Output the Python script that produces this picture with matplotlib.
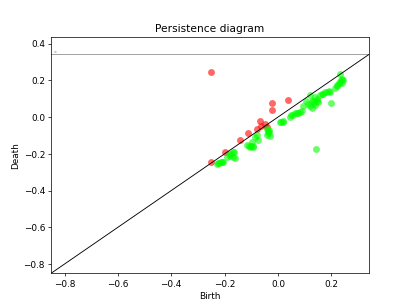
import matplotlib
matplotlib.use("Agg")
import matplotlib.pyplot as plt
import numpy as np

# Dimension 0 (red) points
red_birth = [-0.25, -0.024, -0.024, 0.039, -0.068, -0.049, -0.078, -0.112, -0.143, -0.200, -0.250, -0.042, -0.062]
red_death = [0.245, 0.078, 0.036, 0.092, -0.022, -0.040, -0.067, -0.089, -0.126, -0.189, -0.243, -0.055, -0.050]

# Dimension 1 (green) points
green_birth = [0.143, 0.199, 0.231, 0.223, 0.234, 0.245, 0.215, 0.121, 0.158, 0.177, 0.196, 0.140,
               0.094, 0.113, 0.128, 0.140, 0.147, 0.128, 0.045, 0.064, 0.083, 0.057, 0.008, 0.019,
               -0.042, -0.038, -0.030, -0.087, -0.075, -0.117, -0.106, -0.094, -0.181, -0.170,
               -0.162, -0.211, -0.225, -0.190, -0.098, -0.080, 0.240, 0.168, 0.105, -0.036, -0.215,
               0.228, 0.238, 0.220, 0.242, 0.120, 0.135, 0.145, 0.130, 0.150,
               0.050, 0.070, 0.075, 0.090, -0.035, -0.040, -0.032, -0.110, -0.100, -0.095,
               -0.180, -0.175, -0.165, -0.170, -0.220, -0.205, -0.230, 0.165, 0.185, 0.190,
               0.012, 0.020]
green_death = [-0.172, 0.078, 0.232, 0.177, 0.193, 0.204, 0.161, 0.123, 0.123, 0.134, 0.139, 0.107,
               0.058, 0.074, 0.085, 0.068, 0.096, 0.052, 0.003, 0.020, 0.030, 0.009, -0.029, -0.024,
               -0.067, -0.089, -0.105, -0.111, -0.122, -0.154, -0.165, -0.160, -0.203, -0.192,
               -0.220, -0.247, -0.250, -0.215, -0.135, -0.100, 0.185, 0.128, 0.090, -0.075, -0.245,
               0.185, 0.200, 0.170, 0.210, 0.060, 0.075, 0.085, 0.090, 0.080,
               0.010, 0.020, 0.025, 0.035, -0.080, -0.095, -0.070, -0.160, -0.155, -0.165,
               -0.210, -0.200, -0.190, -0.215, -0.250, -0.245, -0.255, 0.125, 0.135, 0.140,
               -0.027, -0.020]

axis_start = -0.85
axis_end = 0.34
infinity = 0.346
y_top = 0.438

fig, ax = plt.subplots(figsize=(6.4, 4.8), dpi=64)

x = np.linspace(axis_start, axis_end, 100)
ax.plot(x, x, color="k", linewidth=1.0)
ax.plot([axis_start, axis_end], [infinity, infinity], color="k", linewidth=1.0, alpha=0.4)
ax.text(axis_start + 0.005, infinity + 0.003, r"$\infty$", fontsize=4, color="gray")

ax.scatter(red_birth, red_death, color="#ff0000", alpha=0.6, s=60, linewidths=0)
ax.scatter(green_birth, green_death, color="#00ff00", alpha=0.6, s=60, linewidths=0)

ax.set_xlim(axis_start, axis_end)
ax.set_ylim(axis_start, y_top)
ax.set_xlabel("Birth")
ax.set_ylabel("Death")
ax.set_title("Persistence diagram")

fig.savefig("out.png", dpi=64)
